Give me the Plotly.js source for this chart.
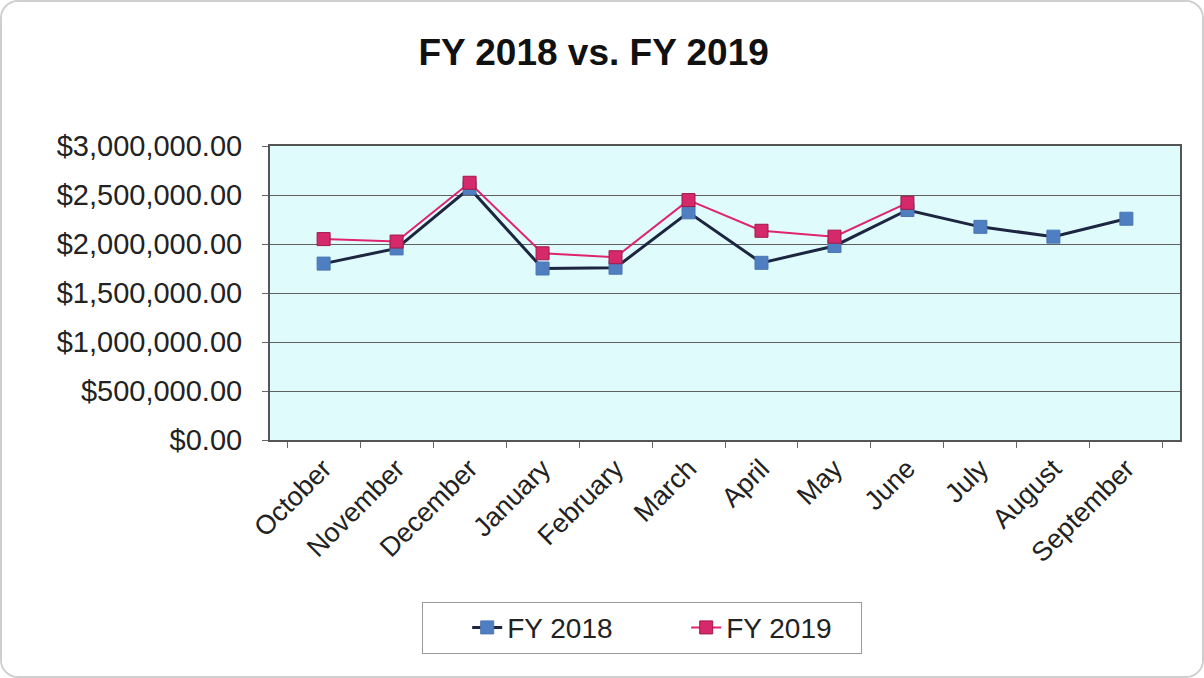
<!DOCTYPE html>
<html>
<head>
<meta charset="utf-8">
<script src="https://cdn.plot.ly/plotly-3.0.1.min.js"></script>
<style>
html,body{margin:0;padding:0;background:#fff;}
#frame{position:absolute;left:0;top:0;width:1200px;height:674px;border:2px solid #cfcfcf;border-radius:18px;overflow:hidden;}
#chart{width:1200px;height:674px;}
</style>
</head>
<body>
<div id="frame"><div id="chart"></div></div>
<script>
const months = ["October","November","December","January","February","March","April","May","June","July","August","September"];
const fy2018 = [1800000,1955000,2570000,1750000,1758000,2323000,1808000,1980000,2347000,2175000,2075000,2258000];
const fy2019 = [2050000,2025000,2625000,1905000,1865000,2448000,2135000,2075000,2420000,null,null,null];

const traces = [
  {x: months, y: fy2018, name: "FY 2018", type: "scatter", mode: "lines+markers",
   line: {color: "#1c2640", width: 3},
   marker: {symbol: "square", size: 13, color: "#4f7fc0", line: {color: "#4a76b4", width: 1}}},
  {x: months, y: fy2019, name: "FY 2019", type: "scatter", mode: "lines+markers",
   line: {color: "#e0236f", width: 2},
   marker: {symbol: "square", size: 13, color: "#d6296b", line: {color: "#a01848", width: 1}}}
];

const layout = {
  width: 1200, height: 674,
  margin: {l: 268, r: 22, t: 144, b: 236},
  paper_bgcolor: "#ffffff",
  plot_bgcolor: "#e0fbfc",
  font: {family: "Liberation Sans, Arial, sans-serif", color: "#222", size: 28},
  title: {text: "<b>FY 2018 vs. FY 2019</b>", x: 0.493, xanchor: "center", y: 0.926, yanchor: "middle",
          font: {size: 37, color: "#111", family: "Liberation Sans, Arial, sans-serif"}},
  showlegend: true,
  legend: {orientation: "h", x: 0.409, xanchor: "center", y: -0.55, yanchor: "top",
           bordercolor: "#999", borderwidth: 1, bgcolor: "#fff",
           entrywidth: 130, entrywidthmode: "pixels", indentation: 44, tracegroupgap: 0,
           font: {size: 28, color: "#222"}},
  xaxis: {type: "category", tickangle: -45, tickson: "boundaries", ticks: "outside", ticklen: 6,
          tickcolor: "#666", showgrid: false, showline: true, linecolor: "#555", linewidth: 2,
          mirror: true, automargin: false, tickfont: {size: 27, color: "#222"}},
  yaxis: {range: [0, 3000000], dtick: 500000, tickformat: "$,.2f", ticks: "outside", ticklen: 6,
          tickcolor: "#666", showgrid: true, gridcolor: "#606060", gridwidth: 1,
          showline: true, linecolor: "#555", linewidth: 2, mirror: true, zeroline: false,
          automargin: false, ticklabelstandoff: 14,
          tickfont: {size: 29, color: "#222"}}
};

Plotly.newPlot("chart", traces, layout, {displayModeBar: false, staticPlot: true});
</script>
</body>
</html>
